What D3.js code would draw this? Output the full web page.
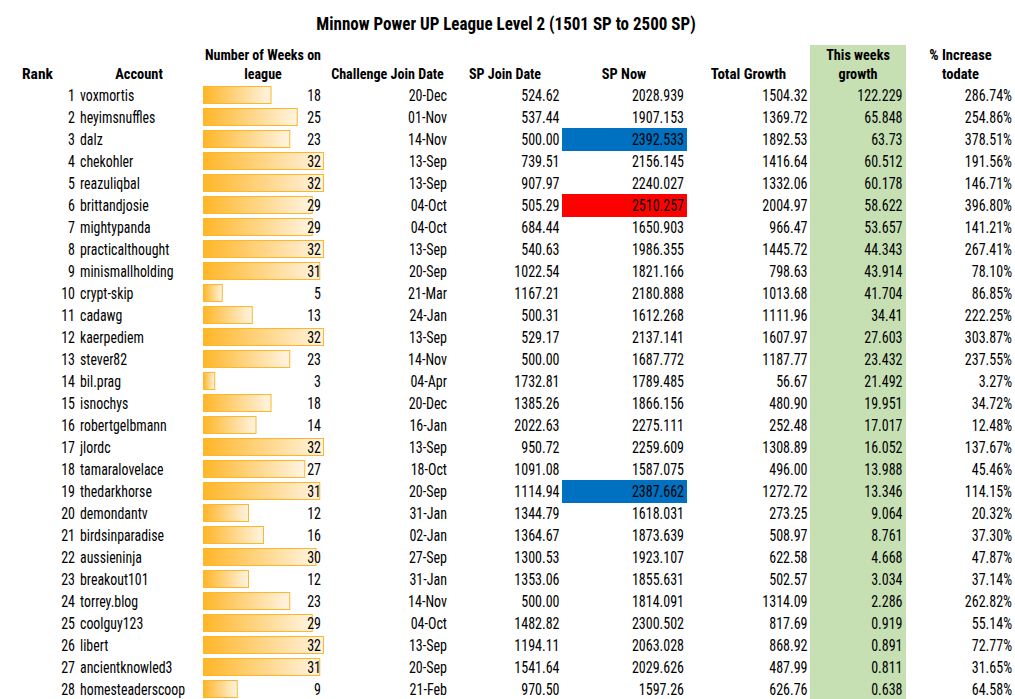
<!DOCTYPE html>
<html><head><meta charset="utf-8">
<script src="https://cdn.jsdelivr.net/npm/d3@7/dist/d3.min.js"></script>
<style>html,body{margin:0;padding:0;background:#fff}svg{display:block}
text{font-family:"Liberation Sans Narrow","Roboto Condensed","Liberation Sans",sans-serif;fill:#000}
.b{font-size:16.5px}.h{font-size:15.5px;font-weight:700}.t{font-size:18.5px;font-weight:700}</style>
</head><body><div id="c"></div>
<script>
const accounts=["voxmortis","heyimsnuffles","dalz","chekohler","reazuliqbal","brittandjosie","mightypanda","practicalthought","minismallholding","crypt-skip","cadawg","kaerpediem","stever82","bil.prag","isnochys","robertgelbmann","jlordc","tamaralovelace","thedarkhorse","demondantv","birdsinparadise","aussieninja","breakout101","torrey.blog","coolguy123","libert","ancientknowled3","homesteaderscoop"];
const weeks=[18,25,23,32,32,29,29,32,31,5,13,32,23,3,18,14,32,27,31,12,16,30,12,23,29,32,31,9];
const joinDates=["20-Dec","01-Nov","14-Nov","13-Sep","13-Sep","04-Oct","04-Oct","13-Sep","20-Sep","21-Mar","24-Jan","13-Sep","14-Nov","04-Apr","20-Dec","16-Jan","13-Sep","18-Oct","20-Sep","31-Jan","02-Jan","27-Sep","31-Jan","14-Nov","04-Oct","13-Sep","20-Sep","21-Feb"];
const spJoin=["524.62","537.44","500.00","739.51","907.97","505.29","684.44","540.63","1022.54","1167.21","500.31","529.17","500.00","1732.81","1385.26","2022.63","950.72","1091.08","1114.94","1344.79","1364.67","1300.53","1353.06","500.00","1482.82","1194.11","1541.64","970.50"];
const spNow=["2028.939","1907.153","2392.533","2156.145","2240.027","2510.257","1650.903","1986.355","1821.166","2180.888","1612.268","2137.141","1687.772","1789.485","1866.156","2275.111","2259.609","1587.075","2387.662","1618.031","1873.639","1923.107","1855.631","1814.091","2300.502","2063.028","2029.626","1597.26"];
const totalGrowth=["1504.32","1369.72","1892.53","1416.64","1332.06","2004.97","966.47","1445.72","798.63","1013.68","1111.96","1607.97","1187.77","56.67","480.90","252.48","1308.89","496.00","1272.72","273.25","508.97","622.58","502.57","1314.09","817.69","868.92","487.99","626.76"];
const weekGrowth=["122.229","65.848","63.73","60.512","60.178","58.622","53.657","44.343","43.914","41.704","34.41","27.603","23.432","21.492","19.951","17.017","16.052","13.988","13.346","9.064","8.761","4.668","3.034","2.286","0.919","0.891","0.811","0.638"];
const pctIncrease=["286.74%","254.86%","378.51%","191.56%","146.71%","396.80%","141.21%","267.41%","78.10%","86.85%","222.25%","303.87%","237.55%","3.27%","34.72%","12.48%","137.67%","45.46%","114.15%","20.32%","37.30%","47.87%","37.14%","262.82%","55.14%","72.77%","31.65%","64.58%"];
const title="Minnow Power UP League Level 2 (1501 SP to 2500 SP)";
const headers=[[["Rank"],37.5,1],[["Account"],139,.93],[["Number of Weeks on","league"],263,.905],[["Challenge Join Date"],387.5,.91],[["SP Join Date"],505,.91],[["SP Now"],624,.93],[["Total Growth"],748.5,.97],[["This weeks","growth"],858,.915],[["% Increase","todate"],960.5,.94]];

const W=1015,H=699;
const svg=d3.select("#c").append("svg").attr("width",W).attr("height",H);
const rows=d3.range(accounts.length);
const y=d3.scaleBand().domain(rows).range([84,84+22*rows.length]).padding(0);
const x=d3.scaleLinear().domain([0,32]).range([203.5,323.5]);
const cellColor=d3.scaleThreshold().domain([2350,2500]).range(["none","#0070C0","#FF0000"]);
const squeeze=(px,py,k)=>`translate(${px},${py}) scale(${k},1)`;

const grad=svg.append("defs").append("linearGradient").attr("id","g");
grad.append("stop").attr("offset","0%").attr("stop-color","#FFB628");
grad.append("stop").attr("offset","100%").attr("stop-color","#FFF4E2");

svg.append("rect").attr("x",810).attr("y",45).attr("width",96).attr("height",H-45).attr("fill","#C6E0B4");
svg.selectAll("rect.sp").data(rows).join("rect").attr("class","sp")
  .attr("x",562).attr("width",125).attr("y",i=>y(i)).attr("height",y.bandwidth()+1)
  .attr("fill",i=>cellColor(+spNow[i]));
svg.selectAll("rect.bar").data(rows).join("rect").attr("class","bar")
  .attr("x",x(0)).attr("y",i=>y(i)+2.5).attr("height",17)
  .attr("width",i=>x(weeks[i])-x(0)).attr("fill","url(#g)").attr("stroke","#FFB628").attr("stroke-width",1);

svg.append("text").attr("class","t").attr("transform",squeeze(506,29.5,0.92)).attr("text-anchor","middle").text(title);
headers.forEach(([lines,cx,k0])=>{
  lines.forEach((l,k)=>{
    svg.append("text").attr("class","h").attr("text-anchor","middle")
      .attr("transform",squeeze(cx,79-(lines.length-1-k)*19,k0)).text(l);
  });
});
const cols=[
 [i=>i+1,75,"end",.85],[i=>accounts[i],80,"start",.84],[i=>weeks[i],321,"end",.85],[i=>joinDates[i],447,"end",.85],
 [i=>spJoin[i],559.5,"end",.85],[i=>spNow[i],684,"end",.85],[i=>totalGrowth[i],807.5,"end",.85],[i=>weekGrowth[i],902.5,"end",.85],[i=>pctIncrease[i],1012,"end",.85]];
cols.forEach(([f,px,anchor,k])=>{
  svg.append("g").selectAll("text").data(rows).join("text").attr("class","b")
    .attr("transform",i=>squeeze(px,y(i)+17,k)).attr("text-anchor",anchor).text(f);
});
</script></body></html>
